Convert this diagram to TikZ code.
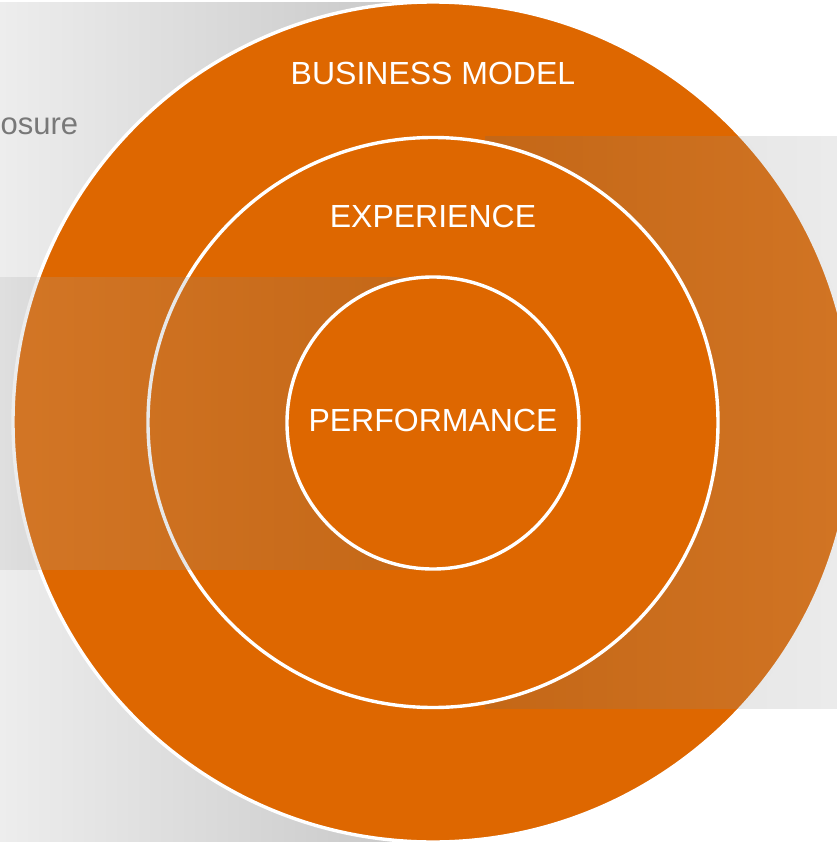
\documentclass[tikz,border=0pt]{standalone}
\usepackage{fontspec}
\setmainfont{Liberation Sans}
\definecolor{ringorange}{RGB}{222,103,0}
\definecolor{bgl}{RGB}{237,237,237}
\definecolor{bgd}{RGB}{198,198,198}
\definecolor{bandl}{RGB}{175,175,175}
\definecolor{bandd}{RGB}{105,105,105}
\definecolor{sidetext}{RGB}{120,120,120}
\begin{document}
\begin{tikzpicture}[x=1pt,y=-1pt,
  ring/.style={circle, fill=ringorange, draw=white, line width=3.4pt, inner sep=0pt, minimum size=#1},
  ringlabel/.style={text=white, font=\fontsize{32}{36}\selectfont, inner sep=0pt, anchor=base},
  bandbox/.style={fill opacity=0.22, draw=none}
]
\useasboundingbox (0,0) rectangle (836,842);
% left grey backdrop
\shade[left color=bgl, right color=bgd] (0,3) rectangle (433,842);
\node[text=sidetext, font=\fontsize{31}{36}\selectfont, inner sep=0pt, anchor=base west] (side) at (0.5,135) {osure};
% outer ring
\node[ring=840pt] (outer) at (433,422) {};
% right band
\shade[bandbox, left color=bandd, right color=bandl] (485,137) rectangle (900,708);
% middle ring
\node[ring=570pt] (middle) at (433,422.5) {};
% left band
\shade[bandbox, left color=bandl, right color=bandd] (-5,277) rectangle (433,569);
% inner ring
\node[ring=292pt] (inner) at (433,423) {};
% labels
\node[ringlabel] (bm) at (433,84.3) {BUSINESS MODEL};
\node[ringlabel] (ex) at (433,227.7) {EXPERIENCE};
\node[ringlabel] (pf) at (433,431.7) {PERFORMANCE};
\end{tikzpicture}
\end{document}
